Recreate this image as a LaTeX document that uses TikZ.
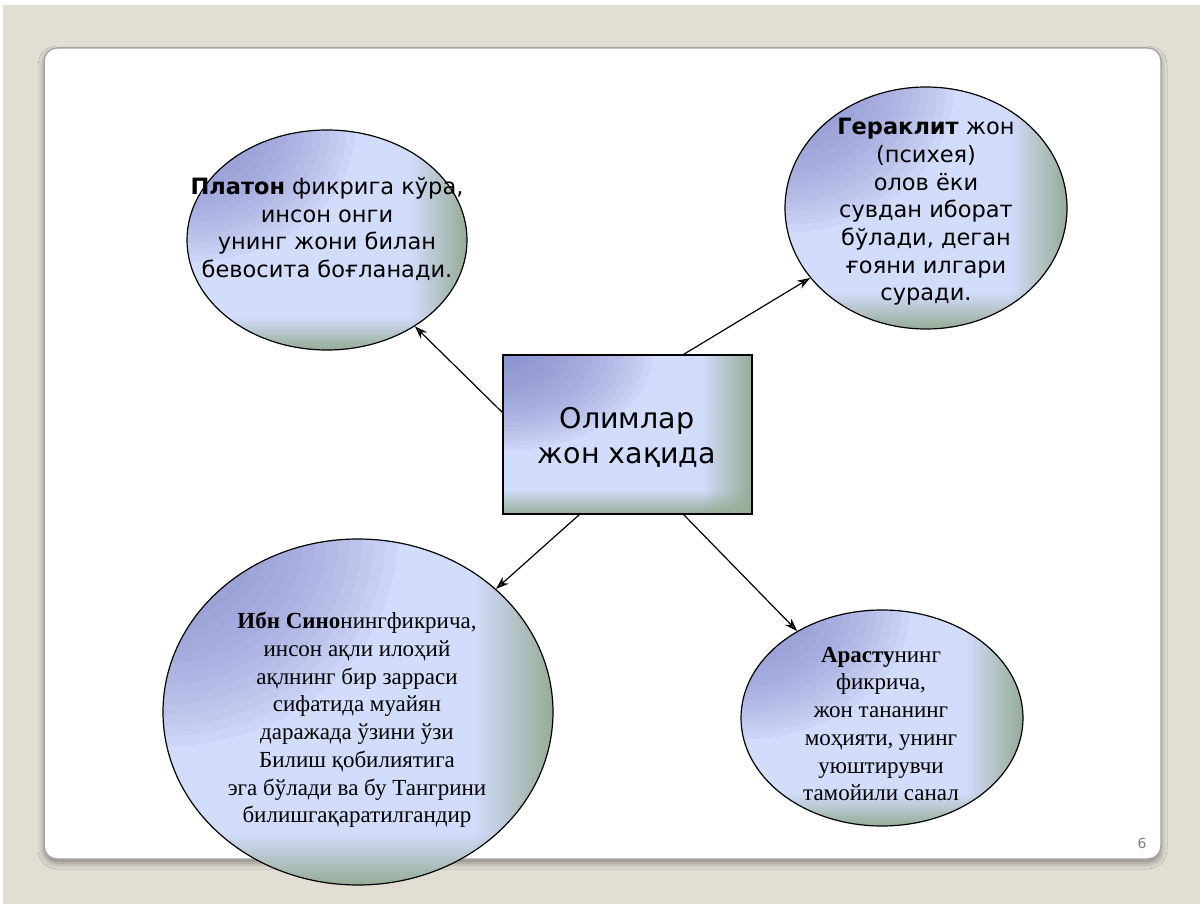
\documentclass[tikz,border=0pt]{standalone}
\usepackage{fontspec}
\setmainfont{Liberation Serif}
\newfontfamily\verd{DejaVu Sans}
\usetikzlibrary{arrows.meta,shapes.geometric,fadings,shadows.blur,calc}

\definecolor{paper}{RGB}{227,222,212}
\definecolor{lav}{RGB}{210,220,251}
\definecolor{dusk}{RGB}{128,133,200}
\definecolor{sage}{RGB}{150,172,150}
\definecolor{rim}{RGB}{165,165,165}
\tikzfading[name=to right, left color=transparent!100, right color=transparent!0]
\tikzfading[name=to bottom, top color=transparent!100, bottom color=transparent!0]

\begin{document}
\begin{tikzpicture}[x=1pt,y=-1pt,
                blob/.style={draw, line width=1.2pt, fill=lav, inner sep=0pt,
                    path picture={
                        \foreach \k in {1,...,20}
                            \fill[dusk, opacity=0.07]
                                let \p1 = ($(path picture bounding box.center)-(path picture bounding box.north west)$) in
                                (path picture bounding box.north west) ellipse [x radius={\k*0.06*abs(\x1)}, y radius={\k*0.06*abs(\y1)}];
                        \fill[sage, path fading=to right]
                            ($(path picture bounding box.north east)!0.2!(path picture bounding box.north west)$)
                            rectangle (path picture bounding box.south east);
                        \fill[sage, path fading=to bottom]
                            ($(path picture bounding box.south west)!0.15!(path picture bounding box.north west)$)
                            rectangle (path picture bounding box.south east);
                    }},
                sans/.style={font=\verd\fontsize{22.5}{27.7}\selectfont, align=center, inner sep=0pt},
                serif/.style={font=\fontsize{23}{27.7}\selectfont, align=center, inner sep=0pt},
                link/.style={-{Stealth[length=13pt,width=9pt]}, line width=1.2pt}]

                \path[use as bounding box] (0,0) rectangle (1200,904);
                \fill[white] (0,0) rectangle (1200,904);
                \fill[paper] (3,5) rectangle (1200,904);
                \draw[rim, line width=1.5pt, fill=white, rounded corners=13pt,
                    blur shadow={shadow xshift=0pt, shadow yshift=-4pt, shadow blur radius=6pt}]
                    (44,48) rectangle (1161,859);

                \node[blob, ellipse, minimum width=280pt, minimum height=220pt] (plat) at (327,240) {};
                \node[blob, ellipse, minimum width=282pt, minimum height=242pt] (herak) at (926,208) {};
                \node[blob, ellipse, minimum width=390pt, minimum height=346pt] (sino) at (358,712) {};
                \node[blob, ellipse, minimum width=282pt, minimum height=216pt] (arast) at (882,718) {};
                \node[blob, rectangle, minimum width=249pt, minimum height=159pt] (olim) at (627.5,434.5) {};

                \node[sans] (plattext) at (327,229) {\textbf{Платон} фикрига кўра,\\инсон онги\\унинг жони билан\\бевосита боғланади.};
                \node[sans] (heraktext) at (926,212) {\textbf{Гераклит} жон\\(психея)\\олов ёки\\сувдан иборат\\бўлади, деган\\ғояни илгари\\суради.};
                \node[serif] (sinotext) at (357,720) {\textbf{Ибн Сино}нингфикрича,\\инсон ақли илоҳий\\ақлнинг бир зарраси\\сифатида муайян\\даражада ўзини ўзи\\Билиш қобилиятига\\эга бўлади ва бу Тангрини\\билишгақаратилгандир};
                \node[serif] (arasttext) at (881,724) {\textbf{Арасту}нинг\\фикрича,\\жон тананинг\\моҳияти, унинг\\уюштирувчи\\тамойили санал};
                \node[font=\verd\fontsize{28.5}{35}\selectfont, align=center, inner sep=0pt] (olimtext) at (627,437) {Олимлар\\жон хақида};

                \draw[link] (olim.170) -- (plat);
                \draw[link] (olim.55) -- (herak);
                \draw[link] (olim.239) -- (sino);
                \draw[link] (olim.305) -- (arast);

                \node[font=\verd\fontsize{14}{16}\selectfont, text=gray, inner sep=0pt] (pnum) at (1142,843) {6};
            \end{tikzpicture}
\end{document}
